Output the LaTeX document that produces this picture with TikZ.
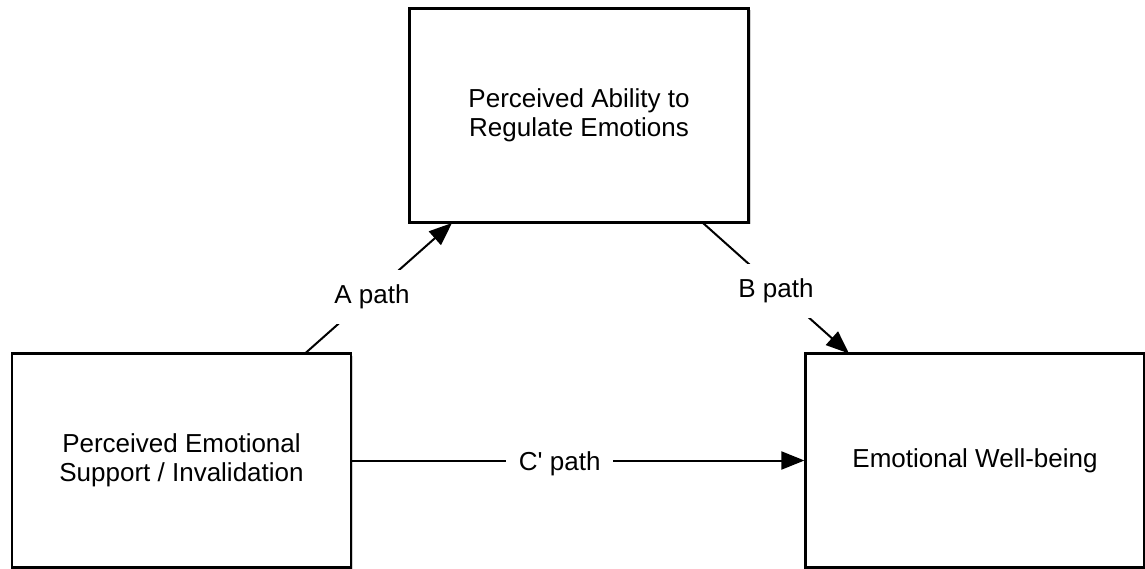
\documentclass[tikz,border=0pt]{standalone}
\usepackage{fontspec}
\setmainfont{Liberation Sans}
\usetikzlibrary{arrows.meta,shadows}
\begin{document}
\begin{tikzpicture}[x=1pt,y=-1pt,
  box/.style={draw=black, line width=2.2pt, fill=white, minimum width=339pt, minimum height=214pt,
    align=center, inner sep=0pt, font=\fontsize{26}{29}\selectfont,
    drop shadow={shadow xshift=2pt, shadow yshift=-2pt, opacity=0.18, fill=black}},
  conn/.style={line width=2pt, draw=black},
  arr/.style={conn, -{Triangle[length=23pt,width=18pt]}},
  lbl/.style={fill=white, inner xsep=13pt, inner ysep=15pt, yshift=-3pt, font=\fontsize{26}{29}\selectfont}]
\useasboundingbox (0,0) rectangle (1145,569);
\node[box] (reg) at (579,115.5) {Perceived Ability to\\Regulate Emotions};
\node[box] (sup) at (181.5,460.5) {Perceived Emotional\\Support / Invalidation};
\node[box] (wb) at (975,460.5) {Emotional Well-being};
\coordinate (a0) at (305,353.5);
\coordinate (a1) at (452,223);
\coordinate (b0) at (703,223);
\coordinate (b1) at (849,353.5);
\draw[arr] (a0) -- node[lbl, pos=0.456] {A path} (a1);
\draw[arr] (b0) -- node[lbl, pos=0.5] {B path} (b1);
\draw[arr] (sup.east) -- node[lbl, pos=0.459] {C\textquotesingle\ path} (wb.west);
\end{tikzpicture}
\end{document}
